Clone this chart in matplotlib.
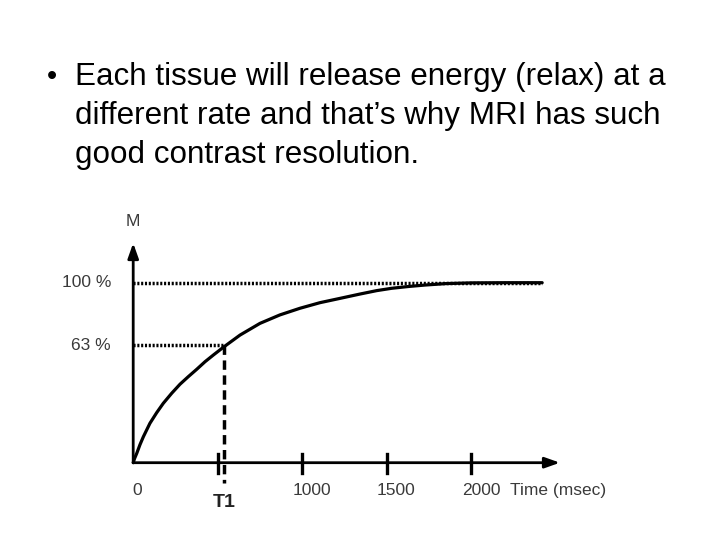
import numpy as np
import matplotlib
matplotlib.use('Agg')
from matplotlib import pyplot as plt

plt.rcParams['font.family'] = ['Liberation Sans', 'DejaVu Sans']

# curve (time in ms, magnetisation in % of the drawn scale)
t_ms = [0, 8, 21, 40, 60, 99, 139, 178, 228, 277, 326, 376, 425, 474, 533, 632, 750, 868,
        987, 1105, 1224, 1342, 1441, 1530, 1630, 1727, 1850, 2000, 2200, 2420]
m_pct = [0, 2.3, 5.2, 10.0, 14.4, 21.9, 27.8, 33.0, 38.6, 43.6, 47.8, 51.9, 56.1, 59.8, 64.1,
         70.9, 77.4, 82.1, 85.8, 88.9, 91.3, 93.7, 95.6, 96.9, 97.9, 98.7, 99.5, 99.9, 100, 100]
t1 = 539
m_levels = [100, 65.3]
level_labels = ['100 %', '63 %']
ticks = [500, 1000, 1500, 2000]
tick_labels = ['0', '1000', '1500', '2000']
tick_label_at = [0, 1000, 1500, 2000]

bullet_lines = ["Each tissue will release energy (relax) at a",
                "different rate and that\u2019s why MRI has such",
                "good contrast resolution."]

fig = plt.figure(figsize=(7.2, 5.4), dpi=100)
fig.text(52 / 720, 1 - 85 / 540, '\u2022', fontsize=21, va='baseline', ha='center')
for i, line in enumerate(bullet_lines):
    fig.text(75 / 720, 1 - (85.5 + 38.5 * i) / 540, line, fontsize=22.6,
             va='baseline', ha='left')

# plot region: origin at px (133, 463), 0.169 px/ms, 1.8 px/%
ax = fig.add_axes([133.2 / 720, (540 - 462.7) / 540, 2500 * 0.169 / 720, 120 * 1.8 / 540])
ax.set_xlim(0, 2500)
ax.set_ylim(0, 120)
ax.axis('off')

ax.plot(t_ms, m_pct, color='black', lw=2.3, clip_on=False, solid_capstyle='round')

# dotted guides
dots = (0, (0.6, 0.5))
ax.plot([0, t_ms[-1]], [m_levels[0]] * 2, color='black', lw=2.5, ls=dots,
        dash_capstyle='butt', clip_on=False)
ax.plot([0, t1], [m_levels[1]] * 2, color='black', lw=2.5, ls=dots,
        dash_capstyle='butt', clip_on=False)
# dashed T1 line
ax.plot([t1, t1], [m_levels[1], -11], color='black', lw=2.5, ls=(0, (2.7, 1.6)), clip_on=False)

# axes arrows
arrow = dict(arrowstyle='-|>,head_length=0.9,head_width=0.32', color='black', lw=2,
             shrinkA=0, shrinkB=0)
ax.annotate('', xy=(2525, 0), xytext=(0, 0), arrowprops=arrow, annotation_clip=False)
ax.annotate('', xy=(0, 122), xytext=(0, 0), arrowprops=arrow, annotation_clip=False)

for tk in ticks:
    ax.plot([tk, tk], [5, -5.5], color='black', lw=2.4, clip_on=False)

for pos, lab in zip(tick_label_at, tick_labels):
    ax.annotate(lab, (pos, 0), xytext=(3 if pos == 0 else 7, -20), textcoords='offset points',
                ha='center', va='center', fontsize=12.5, color='#3a3a3a', annotation_clip=False)
ax.annotate('Time (msec)', (2230, 0), xytext=(0, -20), textcoords='offset points',
            ha='left', va='center', fontsize=12.5, color='#3a3a3a', annotation_clip=False)
ax.annotate('T1', (t1, 0), xytext=(0, -29), textcoords='offset points',
            ha='center', va='center', fontsize=14, fontweight='bold', color='#222222',
            annotation_clip=False)
ax.text(0, 134, 'M', ha='center', va='center', fontsize=12.5, color='#3a3a3a', clip_on=False)
for lv, lab in zip(m_levels, level_labels):
    ax.annotate(lab, (0, lv), xytext=(-16, 0), textcoords='offset points',
                ha='right', va='center', fontsize=12.5, color='#3a3a3a', annotation_clip=False)

fig.savefig('out.png', dpi=100)
